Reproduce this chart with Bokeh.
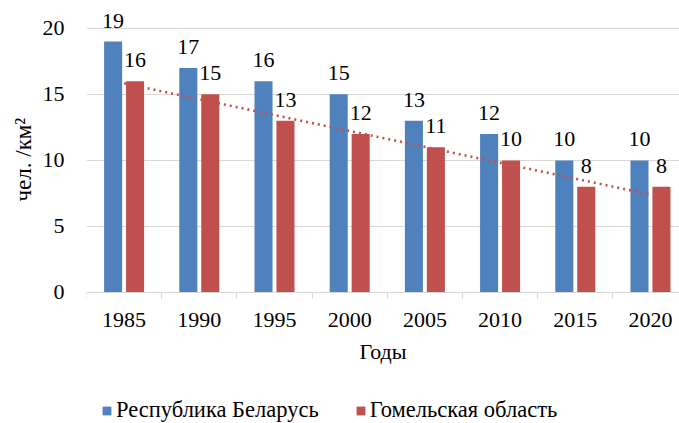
import numpy as np
from bokeh.plotting import figure
from bokeh.models import (ColumnDataSource, Range1d, FixedTicker, LabelSet,
                          Legend, LegendItem, Title)
from bokeh.core.properties import value
from bokeh.transform import dodge
from bokeh.embed import file_html
from bokeh.resources import INLINE

years = ["1985", "1990", "1995", "2000", "2005", "2010", "2015", "2020"]
belarus = [19, 17, 16, 15, 13, 12, 10, 10]
gomel = [16, 15, 13, 12, 11, 10, 8, 8]
series_names = ["Республика Беларусь", "Гомельская область"]
y_ticks = [0, 5, 10, 15, 20]
x_title = "Годы"
y_title = "чел. /км²"

BLUE = "#4F81BD"
RED = "#C0504D"
GRID = "#d9d9d9"
FONT = "Liberation Serif"

x = list(range(len(years)))
src = ColumnDataSource(dict(
    x=x, belarus=belarus, gomel=gomel,
    bl=[str(v) for v in belarus], gl=[str(v) for v in gomel]))

p = figure(width=679, height=423, output_backend="svg", toolbar_location=None,
           x_range=Range1d(-0.5, 7.386), y_range=Range1d(-9.92, 21.5),
           min_border_left=86, min_border_right=0, min_border_top=8,
           min_border_bottom=0)
p.outline_line_color = None
p.background_fill_color = "white"
p.border_fill_color = "white"

off = 0.146
bw = 0.24
b1 = p.vbar(x=dodge('x', -off), top='belarus', width=bw, source=src,
            fill_color=BLUE, line_color=None)
b2 = p.vbar(x=dodge('x', off), top='gomel', width=bw, source=src,
            fill_color=RED, line_color=None)

coef = np.polyfit(x, gomel, 1)
tx = [x[0], x[-1]]
ty = list(np.polyval(coef, tx))
p.line(tx, ty, line_color=RED, line_width=2.6, line_dash="2 4")

for col, lab, dx in (("belarus", "bl", -off), ("gomel", "gl", off)):
    ls = LabelSet(x=dodge('x', dx), y=col, text=lab, source=src,
                  text_align="center", text_baseline="alphabetic",
                  y_offset=14, text_font=value(FONT), text_font_size="22px",
                  text_color="black")
    p.add_layout(ls)

# x axis (pinned at y = 0)
xa = p.xaxis[0]
xa.fixed_location = 0
xa.ticker = FixedTicker(ticks=x, minor_ticks=[i - 0.5 for i in range(len(years) + 1)])
xa.major_label_overrides = {i: yv for i, yv in enumerate(years)}
xa.major_tick_line_color = None
xa.major_tick_out = 0
xa.major_tick_in = 0
xa.minor_tick_line_color = GRID
xa.minor_tick_out = 6
xa.minor_tick_in = 0
xa.axis_line_color = GRID
xa.major_label_standoff = 15
xa.major_label_text_font = FONT
xa.major_label_text_font_size = "22px"
xa.major_label_text_color = "black"
xa.axis_label = x_title
xa.axis_label_text_font = FONT
xa.axis_label_text_font_size = "22px"
xa.axis_label_text_font_style = "normal"
xa.axis_label_text_color = "black"
xa.axis_label_standoff = 8

# y axis
ya = p.yaxis[0]
ya.ticker = FixedTicker(ticks=y_ticks)
ya.axis_line_color = None
ya.major_tick_line_color = None
ya.minor_tick_line_color = None
ya.major_tick_out = 0
ya.major_tick_in = 0
ya.major_label_standoff = 22
ya.major_label_text_font = FONT
ya.major_label_text_font_size = "22px"
ya.major_label_text_color = "black"

yt = Title(text=y_title, align="left", offset=222, standoff=7,
           text_font=FONT, text_font_size="23px", text_font_style="normal",
           text_color="black")
p.add_layout(yt, "left")

p.xgrid.visible = False
p.ygrid.ticker = FixedTicker(ticks=y_ticks)
p.ygrid.grid_line_color = GRID
p.ygrid.grid_line_width = 1

legend = Legend(items=[LegendItem(label=series_names[0], renderers=[b1]),
                       LegendItem(label=series_names[1], renderers=[b2])],
                orientation="horizontal", location=(15, 0),
                glyph_width=11, glyph_height=11, label_standoff=4,
                spacing=36, padding=0, margin=0,
                border_line_color=None, background_fill_alpha=0,
                label_text_font=FONT, label_text_font_size="22.5px",
                label_text_color="black")
p.add_layout(legend)

open("out.html", "w").write(file_html(p, INLINE))
